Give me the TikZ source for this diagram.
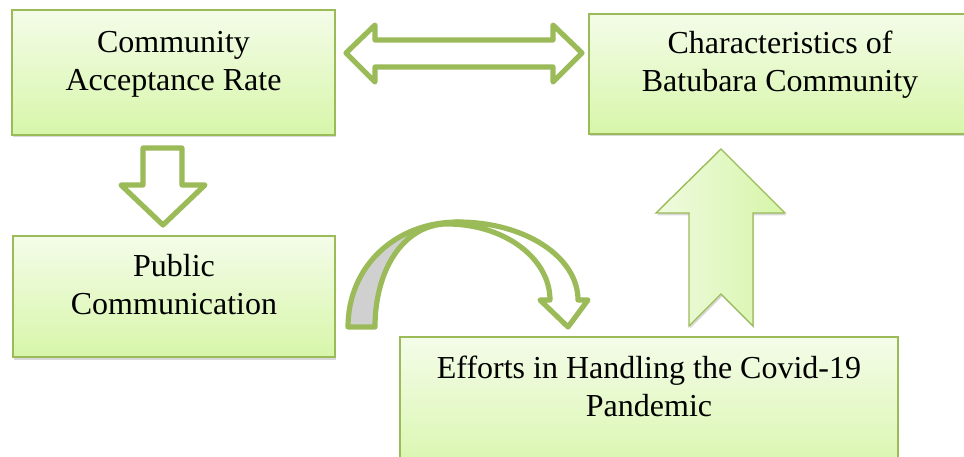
\documentclass[tikz,border=0pt]{standalone}
\usepackage{fontspec}
\setmainfont{Liberation Serif}
\usetikzlibrary{shadows}
\definecolor{leaf}{HTML}{9BBB59}
\definecolor{paneltop}{HTML}{F4FCE9}
\definecolor{panelbot}{HTML}{D7F6A9}
\definecolor{arrowleft}{HTML}{EFFBE0}
\definecolor{arrowright}{HTML}{D6F5A8}
\definecolor{ribbon}{HTML}{D0D0D0}
\begin{document}
\begin{tikzpicture}[x=1pt,y=-1pt,
  panel/.style={draw=leaf,line width=1.4pt,top color=paneltop,bottom color=panelbot,inner sep=0pt,
    drop shadow={shadow xshift=1pt,shadow yshift=-2.5pt,opacity=.3}},
  paneltext/.style={inner sep=0pt,align=center,anchor=north,font=\fontsize{32}{38}\selectfont},
  hollow/.style={draw=leaf,line width=5.2pt,line join=round,fill=white},
  uparrow/.style={draw=leaf,line width=1.4pt,line join=miter,left color=arrowleft,right color=arrowright,
    drop shadow={shadow xshift=1pt,shadow yshift=-2.5pt,opacity=.3}}]
\useasboundingbox (0,0) rectangle (964,457);
\node[panel,minimum width=323pt,minimum height=125pt] (rate) at (173.5,72.5) {};
\node[panel,minimum width=382pt,minimum height=120pt] (trait) at (780,74) {};
\node[panel,minimum width=322pt,minimum height=121pt] (public) at (174,296.5) {};
\node[panel,minimum width=498pt,minimum height=143pt] (effort) at (649,408.5) {};
\node[paneltext] (ratetext) at ([yshift=-22pt]rate.north) {Community\\Acceptance Rate};
\node[paneltext] (traittext) at ([yshift=-17pt]trait.north) {Characteristics of\\Batubara Community};
\node[paneltext] (publictext) at ([yshift=-19pt]public.north) {Public\\Communication};
\node[paneltext] (efforttext) at ([yshift=-19pt]effort.north) {Efforts in Handling the Covid-19\\Pandemic};
\draw[hollow] (346,53) -- (375,25) -- (375,40) -- (553,40) -- (553,25) -- (582,53) -- (553,82) -- (553,67) -- (375,67) -- (375,82) -- cycle;
\draw[hollow] (143,148) -- (182,148) -- (182,185) -- (205,185) -- (163,225) -- (121,185) -- (143,185) -- cycle;
\draw[uparrow] (721,149) -- (785,213) -- (753,213) -- (753,326) -- (721,294) -- (689,326) -- (689,213) -- (656,213) -- cycle;
\draw[hollow,fill=ribbon] (348,327) .. controls (348,266) and (396,222) .. (458,222) -- (445,224) .. controls (403,226) and (375,270) .. (375,327) -- cycle;
\draw[hollow] (458,222) .. controls (525,222) and (578,257) .. (578,300) -- (588,300) -- (568,327) -- (540,300) -- (550,300) .. controls (550,258) and (504,224) .. (447,224) -- cycle;
\end{tikzpicture}
\end{document}
